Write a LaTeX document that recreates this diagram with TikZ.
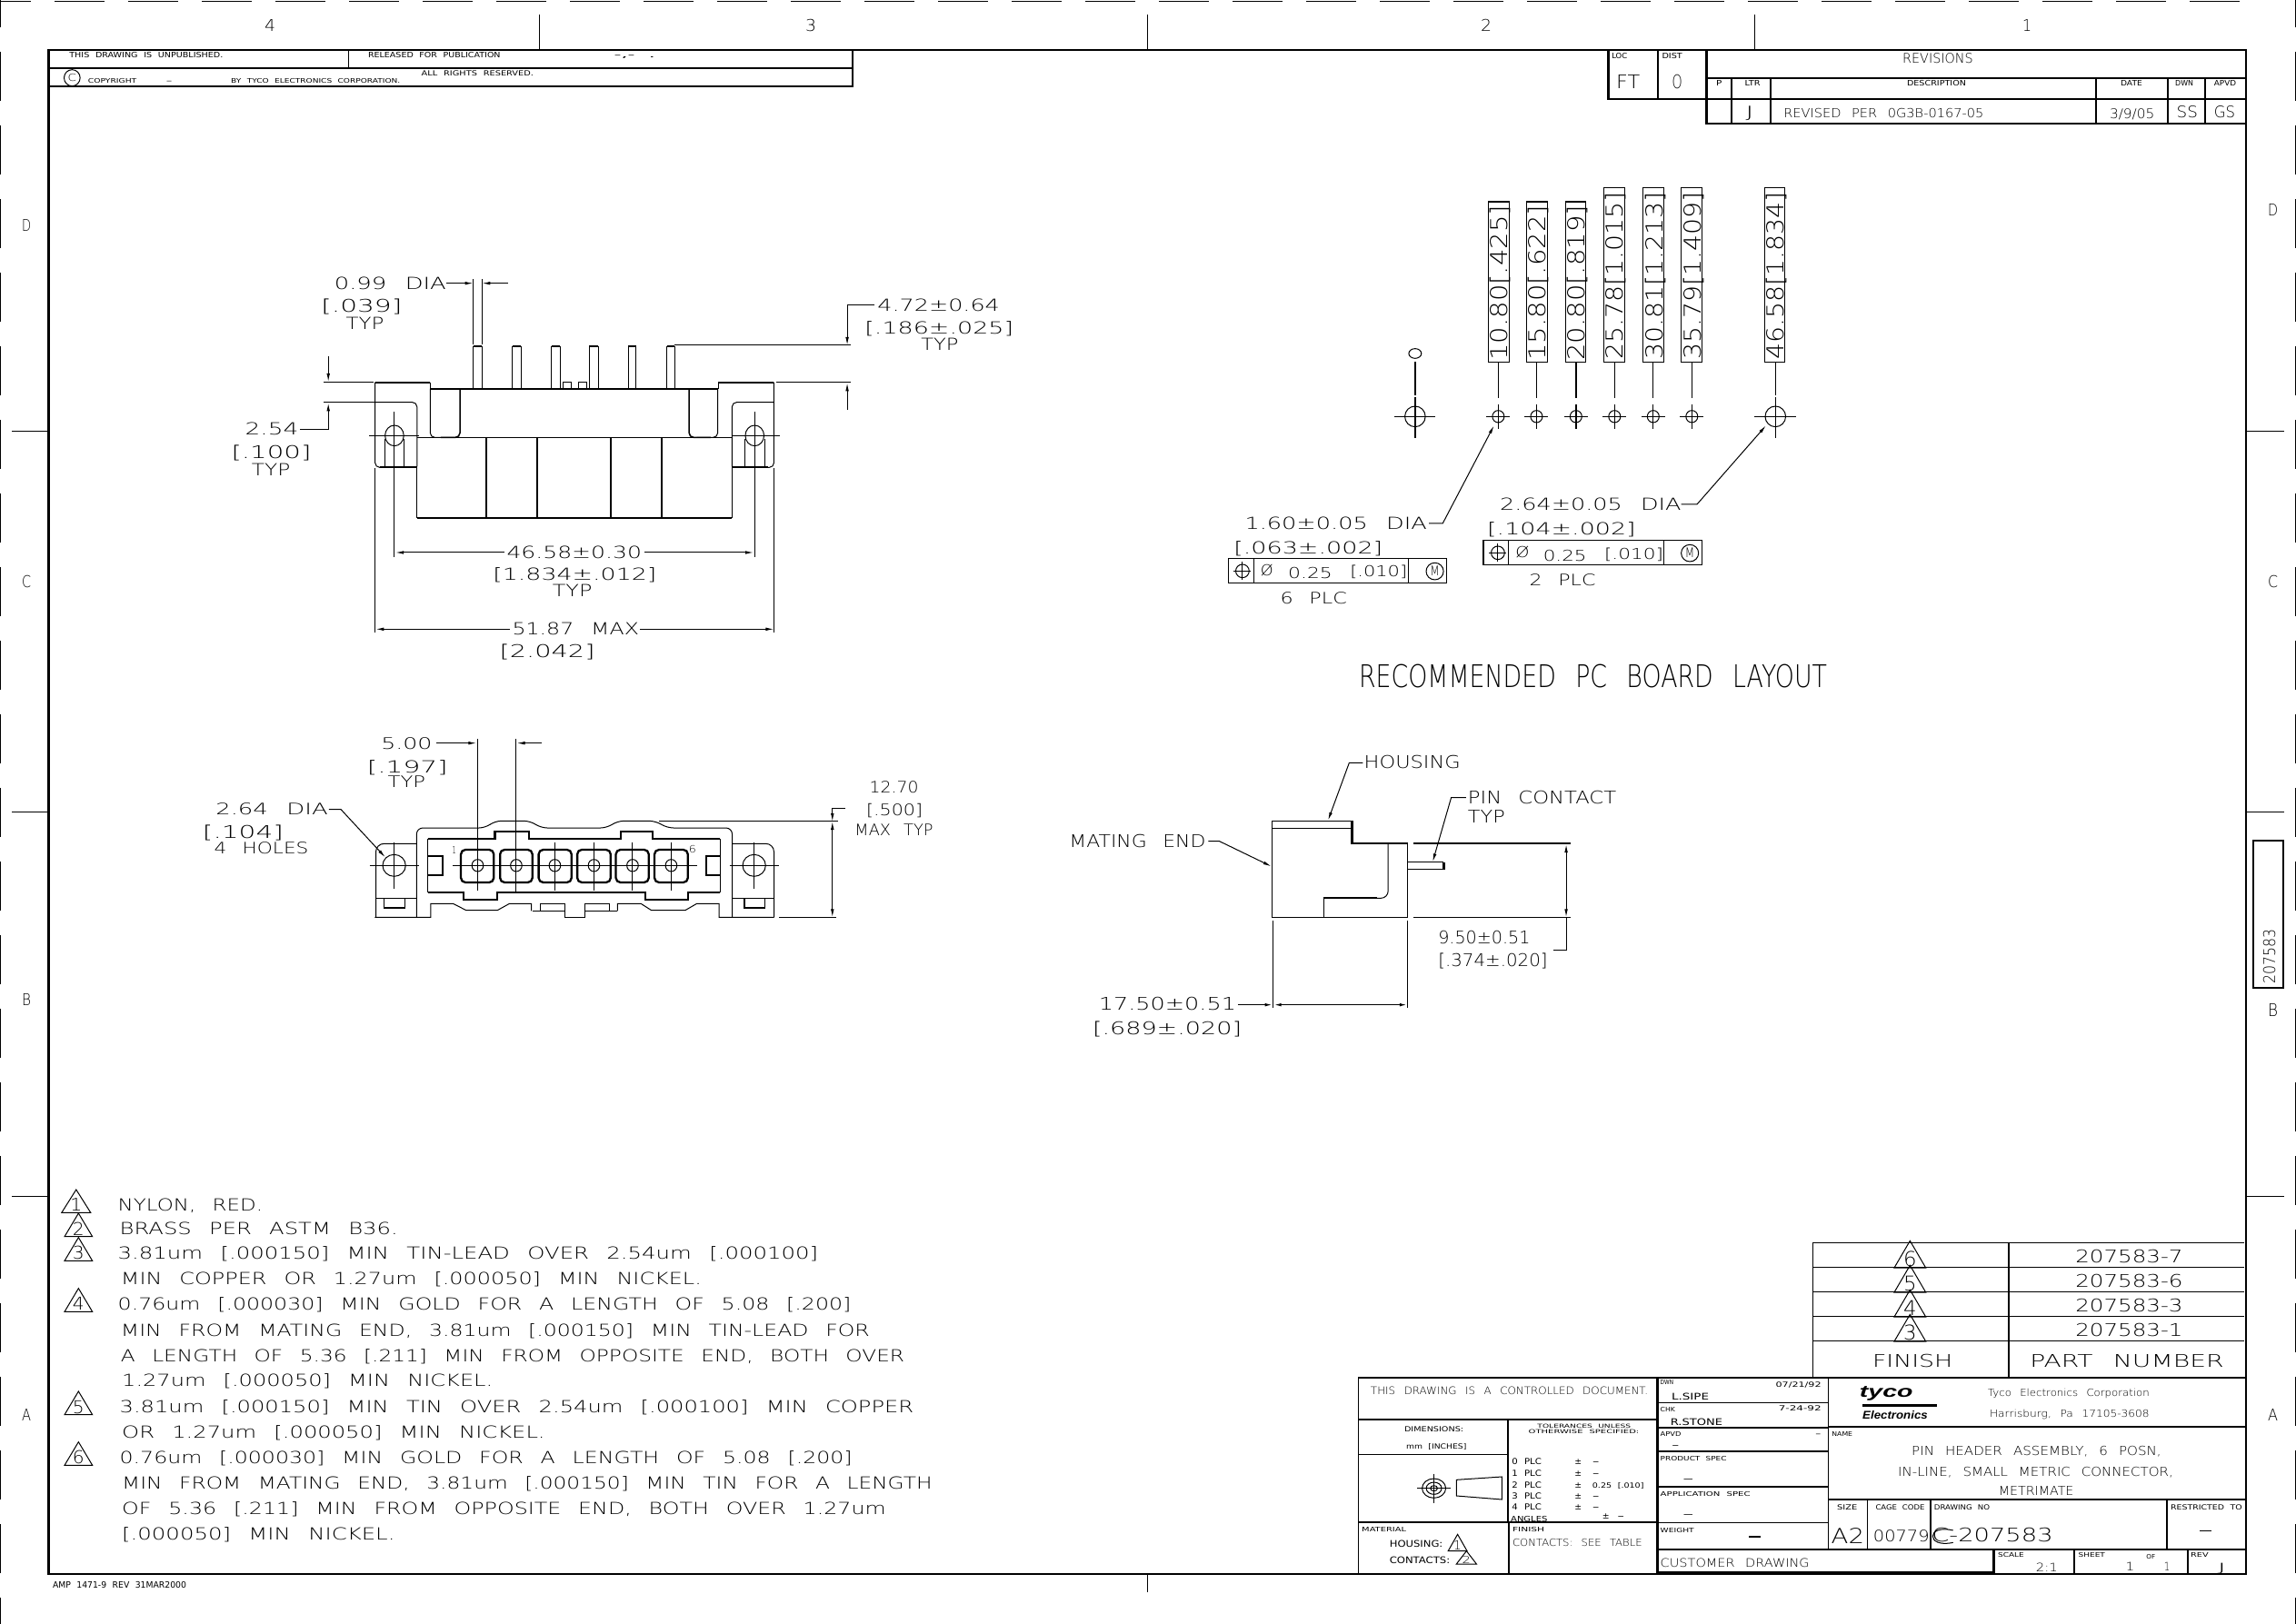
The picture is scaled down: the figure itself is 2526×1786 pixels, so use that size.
\documentclass[tikz,border=0pt]{standalone}
\usepackage{fontspec}
\usepackage{graphicx}
\usetikzlibrary{arrows.meta}
\setmainfont[WordSpace=2.5]{DejaVu Sans ExtraLight}
\newfontfamily\smallf[WordSpace=2.2]{DejaVu Sans}
\newfontfamily\logof{Liberation Sans}
\newsavebox{\mybox}
\newcounter{tn}
\def\zx{1}\def\zy{1}
\newcommand{\fitbox}[3]{\sbox{\mybox}{\fontsize{10}{12}\selectfont\ifdim #2pt<7.5pt \smallf\fi #3}%
 \edef\bw{\the\wd\mybox}%
 \pgfmathsetmacro\sclx{#1/\bw}%
 \pgfmathsetmacro\scly{#2/7.29}%
 \scalebox{\sclx}[\scly]{\usebox{\mybox}}}
% left x, baseline y, right x, cap height, text (all in the coordinates of the scope)
\newcommand{\Tx}[5]{\stepcounter{tn}%
 \pgfmathsetmacro\tww{(#3-(#1))/\zx}\pgfmathsetmacro\tcc{(#4)/\zy}%
 \node[txt] (t\thetn) at (#1,#2) {\fitbox{\tww}{\tcc}{#5}};}
% baseline x, bottom y, top y, cap height, text: reads upwards
\newcommand{\Tv}[5]{\stepcounter{tn}%
 \pgfmathsetmacro\tww{(#2-(#3))/\zy}\pgfmathsetmacro\tcc{(#4)/\zx}%
 \node[txt,rotate=90] (t\thetn) at (#1,#2) {\fitbox{\tww}{\tcc}{#5}};}
% apex x, apex y, half width, base y, digit
\newcommand{\Tri}[5]{\draw (#1,#2)--(#1-#3,#4)--(#1+#3,#4)--cycle;
 \pgfmathsetmacro\lfx{#1-0.42*#3}\pgfmathsetmacro\rgx{#1+0.42*#3}%
 \pgfmathsetmacro\bsy{#4-0.06*(#4-#2)}\pgfmathsetmacro\cpp{0.55*(#4-#2)}%
 \Tx{\lfx}{\bsy}{\rgx}{\cpp}{#5}}
\tikzset{txt/.style={inner sep=0pt,outer sep=0pt,anchor=base west},
 hv/.style={line width=2.3pt},
 mid/.style={line width=1.5pt},
 >={Latex[length=9pt,width=3.6pt]}}
\begin{document}
\begin{tikzpicture}[x=1pt,y=-1pt,line width=1pt]
\useasboundingbox (0,0) rectangle (2526,1786);
\fill[white] (0,0) rectangle (2526,1786);
% outer dashes
\foreach \i in {0,...,30} {\draw ({-21+81*\i},1) -- ({34+81*\i},1);}
\foreach \i in {0,...,22} {\draw (0.8,{-24+81*\i}) -- (0.8,{30+81*\i});
 \draw (2525.2,{-24+81*\i}) -- (2525.2,{30+81*\i});}
% frame
\draw[hv] (53.5,55) rectangle (2471,1732);
\foreach \u in {593,1262,1930} {\draw (\u,16) -- (\u,55);}
\draw (1262,1732) -- (1262,1752);
\foreach \v in {474,893,1316} {\draw (13,\v) -- (53.5,\v); \draw (2471,\v) -- (2513,\v);}
% zone letters
\Tx{291}{34}{303}{13}{4}\Tx{886}{34}{898}{13}{3}\Tx{1629}{34}{1641}{13}{2}\Tx{2225}{34}{2235}{13}{1}
\Tx{24}{254}{34}{13}{D}\Tx{24}{646}{34}{13}{C}\Tx{24}{1106}{34}{13}{B}\Tx{24}{1563}{34}{13}{A}
\Tx{2495}{237}{2506}{13}{D}\Tx{2495}{646}{2506}{13}{C}\Tx{2495}{1118}{2506}{14}{B}\Tx{2495}{1563}{2506}{13}{A}
\draw[mid] (2479,925) rectangle (2512,1087);
\Tv{2503}{1082}{1022}{13}{207583}
\Tx{58}{1747}{205}{7}{AMP 1471-9 REV 31MAR2000}
\Tx{1495}{756}{2010}{25}{RECOMMENDED PC BOARD LAYOUT}

% ---------- top-left table
\def\zx{1.704}\def\zy{3}
\begin{scope}[shift={(40,40)},x=0.5869pt,y=-0.3333pt]
\draw[hv] (1530,44)--(1530,165)--(22,165);
\draw[mid] (22,105)--(1530,105);
\draw (585,44)--(585,105);
\Tx{62}{70}{350}{18}{THIS DRAWING IS UNPUBLISHED.}
\Tx{622}{70}{870}{18}{RELEASED FOR PUBLICATION}
\Tx{1083}{70}{1160}{18}{-,-  .}
\draw (67,137) ellipse [x radius=15,y radius=27];
\Tx{59}{150}{75}{24}{C}
\Tx{97}{155}{188}{15}{COPYRIGHT}
\Tx{243}{155}{255}{15}{-}
\Tx{365}{155}{682}{15}{BY TYCO ELECTRONICS CORPORATION.}
\Tx{722}{130}{932}{17}{ALL RIGHTS RESERVED.}
\end{scope}

% ---------- revisions
\def\zx{2.063}\def\zy{3}
\begin{scope}[shift={(1750,40)},x=0.4847pt,y=-0.3333pt]
\draw[hv] (40,44)--(40,207)--(1485,207);
\draw[hv] (153,44)--(153,207);
\draw[hv] (263,44)--(263,290);
\draw[hv] (263,138)--(1485,138);
\draw[mid] (263,288)--(1485,288);
\draw[hv] (320,138)--(320,290);
\foreach \u in {408,1147,1310,1395} {\draw[mid] (\u,138)--(\u,288);}
\Tx{48}{75}{83}{18}{LOC}\Tx{162}{75}{208}{18}{DIST}
\Tx{58}{172}{112}{45}{FT}\Tx{185}{172}{208}{45}{O}
\Tx{708}{88}{868}{32}{REVISIONS}
\Tx{285}{165}{298}{18}{P}\Tx{350}{165}{385}{18}{LTR}
\Tx{718}{165}{852}{18}{DESCRIPTION}
\Tx{1203}{165}{1252}{18}{DATE}\Tx{1327}{165}{1368}{18}{DWN}\Tx{1415}{165}{1465}{18}{APVD}
\Tx{352}{268}{370}{38}{J}
\Tx{438}{268}{892}{30}{REVISED PER 0G3B-0167-05}
\Tx{1178}{272}{1280}{32}{3/9/05}
\Tx{1330}{268}{1378}{38}{SS}\Tx{1415}{268}{1463}{38}{GS}
\end{scope}

% ---------- front view
\def\zx{1.65}\def\zy{3}
\begin{scope}[shift={(200,280)},x=0.606pt,y=-0.3333pt]
\foreach \a/\b in {529/545,600/616,671/687,740/756,811/825,881/895} {
 \draw (\a,443)--(\a,304)--(\b,304)--(\b,443);
 \draw[hv] (\a,302)--(\b,302);}
\draw (693,443)--(693,421)--(707,421)--(707,443);
\draw (720,443)--(720,421)--(735,421)--(735,443);
\draw[hv] (451,443)--(973,443);
\draw[hv] (351,422)--(451,422);
\draw[hv] (974,422)--(1075,422);
\draw (451,422)--(451,443); \draw (974,422)--(974,443);
\draw[rounded corners=5pt] (351,422)--(351,703)--(365,703);
\draw[rounded corners=5pt] (1075,422)--(1075,703)--(1060,703);
\draw[hv] (360,702)--(427,702);
\draw[hv] (999,702)--(1065,702);
\draw[rounded corners=5pt] (351,488)--(427,488)--(427,700);
\draw[rounded corners=5pt] (1075,488)--(999,488)--(999,700);
\draw (427,700)--(427,870);\draw (999,700)--(999,870);
\draw[hv] (427,870)--(999,870);
\draw (427,604)--(999,604);
\foreach \u in {553,645,779,871} {\draw[mid] (\u,604)--(\u,870);}
\draw[rounded corners=5pt] (451,443)--(451,604)--(505,604);
\draw[mid,rounded corners=5pt] (505,443)--(505,604)--(470,604);
\draw[mid,rounded corners=5pt] (921,443)--(921,604)--(960,604);
\draw[rounded corners=5pt] (973,443)--(973,604)--(935,604);
\foreach \u in {386,1040} {
 \draw (\u,598) ellipse [x radius=17,y radius=34];
 \draw (\u,520)--(\u,1000);}
\draw (369,610)--(369,702);\draw (404,610)--(404,702);
\draw (1022,610)--(1022,702);\draw (1058,610)--(1058,702);
\draw (340,598)--(430,598);\draw (998,598)--(1085,598);
\draw (351,705)--(351,1247);\draw (1075,705)--(1075,1247);
\draw[->] (585,984)--(388,984);\draw[->] (840,984)--(1038,984);
\draw[->] (595,1237)--(352,1237);\draw[->] (832,1237)--(1075,1237);
\Tx{590}{1003}{835}{40}{46.58±0.30}
\Tx{565}{1076}{862}{40}{[1.834±.012]}
\Tx{673}{1130}{745}{40}{TYP}
\Tx{600}{1256}{830}{40}{51.87 MAX}
\Tx{577}{1330}{750}{42}{[2.042]}
\draw (529,82)--(529,298);\draw (545,82)--(545,298);
\draw[->] (480,95)--(529,95);\draw[->] (592,95)--(545,95);
\Tx{277}{116}{480}{40}{0.99 DIA}
\Tx{253}{190}{400}{42}{[.039]}
\Tx{298}{248}{367}{40}{TYP}
\draw[->] (1258,167)--(1208,167)--(1208,300);
\draw (895,300)--(1215,300);
\Tx{1263}{188}{1485}{40}{4.72±0.64}
\Tx{1240}{262}{1510}{40}{[.186±.025]}
\Tx{1342}{317}{1410}{40}{TYP}
\draw (1080,422)--(1215,422);
\draw[->] (1208,512)--(1208,424);
\draw[->] (266,335)--(266,420);
\draw (258,422)--(348,422);
\draw (258,488)--(351,488);
\draw[->] (215,577)--(266,577)--(266,490);
\Tx{115}{597}{212}{40}{2.54}
\Tx{90}{675}{235}{42}{[.100]}
\Tx{127}{730}{197}{40}{TYP}
\end{scope}

% ---------- end view
\def\zx{1.742}\def\zy{3}
\begin{scope}[shift={(200,780)},x=0.574pt,y=-0.3333pt]
\draw[rounded corners=7pt] (450,688)--(450,393)--(582,393)--(600,370)--(668,370)--(688,393)--(815,393)--(835,370)--(908,370)--(930,393)--(1055,393)--(1055,688);
\draw (370,688)--(477,688)--(477,643)--(520,643)--(545,665)--(605,665)--(628,643)--(670,643)--(670,667);
\draw (687,667)--(687,643)--(735,643)--(735,688)--(772,688)--(772,643)--(820,643)--(820,667);
\draw (835,667)--(835,643)--(880,643)--(900,665)--(965,665)--(987,643)--(1030,643)--(1030,688)--(1135,688);
\draw (672,667)--(735,667);\draw (772,667)--(835,667);
\draw[rounded corners=9pt] (372,688)--(372,445)--(450,445);
\draw[mid] (415,445)--(450,445);
\draw[rounded corners=9pt] (1135,688)--(1135,445)--(1055,445);
\draw[mid] (1055,445)--(1090,445);
\draw (372,625)--(450,625);\draw (1055,625)--(1135,625);
\draw[mid] (388,625)--(388,657)--(428,657)--(428,625);
\draw[mid] (1078,625)--(1078,657)--(1118,657)--(1118,625);
\foreach \u in {407,1097} {
 \draw (\u,517) ellipse [x radius=22,y radius=36];
 \draw (\u,440)--(\u,595);}
\draw (360,517)--(455,517);\draw (1050,517)--(1145,517);
\draw[hv] (472,430)--(600,430)--(600,405)--(665,405)--(665,430)--(842,430)--(842,405)--(903,405)--(903,430)--(1032,430);
\draw[hv] (472,605)--(540,605)--(540,630)--(605,630)--(605,605)--(888,605)--(888,630)--(970,630)--(970,605)--(1032,605);
\draw (472,430)--(472,605);\draw (1032,430)--(1032,605);
\draw[hv] (472,485)--(500,485)--(500,550)--(472,550);
\draw[hv] (1032,485)--(1005,485)--(1005,550)--(1032,550);
\foreach \a/\b in {535/598,610/672,684/747,758/822,832/895,906/970} {
 \draw[hv,rounded corners=5pt] (\a,465) rectangle (\b,573);}
\foreach \u in {567,641,715,790,864,938} {
 \draw (\u,517) ellipse [x radius=11,y radius=20];
 \draw (\u,440)--(\u,600);}
\draw (567,100)--(567,440);\draw (641,100)--(641,440);\draw (641,600)--(641,610);
\draw (520,517)--(988,517);
\Tx{518}{478}{526}{24}{1}\Tx{972}{475}{986}{24}{6}
\draw[->] (488,113)--(565,113);\draw[->] (690,113)--(642,113);
\Tx{382}{132}{480}{38}{5.00}
\Tx{355}{212}{510}{40}{[.197]}
\Tx{395}{260}{467}{38}{TYP}
\Tx{65}{350}{280}{38}{2.64 DIA}
\draw[->] (282,332)--(305,332)--(390,490);
\Tx{40}{428}{195}{42}{[.104]}
\Tx{62}{480}{243}{38}{4 HOLES}
\Tx{1318}{277}{1412}{38}{12.70}
\Tx{1312}{352}{1420}{38}{[.500]}
\Tx{1290}{418}{1440}{38}{MAX TYP}
\draw (1272,327)--(1247,327);
\draw[->] (1247,327)--(1247,372);
\draw[->] (1247,420)--(1247,372);
\draw[->] (1247,420)--(1247,688);
\draw (915,370)--(1258,370);\draw (1145,688)--(1255,688);
\end{scope}

% ---------- PC board layout
\def\zx{2.306}\def\zy{3}
\begin{scope}[shift={(1340,190)},x=0.4337pt,y=-0.3333pt]
\foreach \a/\b/\t in {686/739/95,783/836/95,882/933/95,979/1032/48,1078/1131/48,1175/1228/48,1387/1438/48} {
 \draw (\a,\t) rectangle (\b,625);}
\draw[hv] (686,95)--(739,95);\draw[hv] (783,95)--(836,95);\draw[hv] (882,95)--(933,95);
\draw[mid] (783,95)--(783,625);\draw[mid] (1131,48)--(1131,625);\draw[mid] (1175,48)--(1175,625);
\Tv{735}{620}{108}{43}{10.80[.425]}
\Tv{832}{620}{108}{43}{15.80[.622]}
\Tv{930}{620}{108}{43}{20.80[.819]}
\Tv{1028}{618}{65}{43}{25.78[1.015]}
\Tv{1128}{618}{65}{43}{30.81[1.213]}
\Tv{1225}{618}{65}{43}{35.79[1.409]}
\Tv{1435}{618}{65}{43}{46.58[1.834]}
\foreach \u in {711,808,1006,1104,1202} {
 \draw (\u,625)--(\u,745);
 \draw (\u,805) ellipse [x radius=15,y radius=20];
 \draw (\u-30,805)--(\u+30,805);
 \draw (\u,765)--(\u,845);}
\draw[mid] (908,625)--(908,745);
\draw[mid] (908,765)--(908,845);
\draw (908,805) ellipse [x radius=15,y radius=20];
\draw (878,805)--(938,805);
\draw (1414,625)--(1414,735);
\draw (1414,805) ellipse [x radius=26,y radius=34];
\draw (1360,805)--(1467,805);
\draw (1414,740)--(1414,875);
\draw (500,597) ellipse [x radius=16,y radius=16];
\draw[mid] (500,625)--(500,735);
\draw[mid] (500,740)--(500,875);
\draw (500,805) ellipse [x radius=26,y radius=34];
\draw (447,805)--(552,805);
\draw[->] (535,1158)--(570,1158)--(700,835);
\Tx{68}{1177}{530}{40}{1.60±0.05 DIA}
\Tx{40}{1258}{418}{40}{[.063±.002]}
\draw[mid] (26,1274) rectangle (580,1354);
\draw[mid] (91,1274)--(91,1354);\draw (482,1274)--(482,1354);
\draw (62,1315) ellipse [x radius=17,y radius=22];
\draw (62,1285)--(62,1345);\draw (40,1315)--(84,1315);
\Tx{108}{1330}{140}{36}{Ø}
\Tx{178}{1340}{290}{36}{0.25}
\Tx{335}{1335}{480}{36}{[.010]}
\draw (550,1316) ellipse [x radius=22,y radius=28];
\Tx{538}{1332}{562}{32}{M}
\Tx{158}{1425}{327}{38}{6 PLC}
\draw[->] (1175,1095)--(1215,1095)--(1390,835);
\Tx{715}{1115}{1175}{40}{2.64±0.05 DIA}
\Tx{683}{1195}{1060}{40}{[.104±.002]}
\draw[mid] (673,1213) rectangle (1228,1294);
\draw[hv] (673,1213)--(673,1294);
\draw (737,1213)--(737,1294);\draw (1130,1213)--(1130,1294);
\draw (710,1255) ellipse [x radius=17,y radius=22];
\draw (710,1225)--(710,1285);\draw (688,1255)--(732,1255);
\Tx{755}{1272}{790}{36}{Ø}
\Tx{825}{1283}{935}{36}{0.25}
\Tx{980}{1278}{1130}{36}{[.010]}
\draw (1197,1256) ellipse [x radius=22,y radius=28];
\Tx{1185}{1272}{1209}{32}{M}
\Tx{790}{1365}{958}{38}{2 PLC}
\end{scope}

% ---------- side view
\def\zx{2.45}\def\zy{3}
\begin{scope}[shift={(1160,810)},x=0.408pt,y=-0.3333pt]
\draw (803,280)--(588,280)--(588,598)--(953,598)--(953,355);
\draw[hv] (803,280)--(803,355)--(953,355);
\draw (588,305)--(803,305);
\draw[rounded corners=8pt] (900,355)--(900,535)--(840,535);
\draw[hv] (870,535)--(726,535);
\draw (726,535)--(726,598);
\draw[mid] (953,416)--(1050,416);
\draw (953,441)--(1050,441);
\draw[hv] (1050,416)--(1050,441);
\draw[hv] (968,355)--(1393,355);
\draw (968,598)--(1393,598);
\draw[->] (1380,480)--(1380,357);
\draw[->] (1380,480)--(1380,598);
\draw (1380,598)--(1380,708)--(1345,708);
\draw (590,610)--(590,898);\draw (953,610)--(953,898);
\draw[mid,->] (495,887)--(590,887);
\draw[mid,->] (770,887)--(590,887);
\draw[mid,->] (770,887)--(953,887);
\Tx{1035}{685}{1283}{42}{9.50±0.51}
\Tx{1035}{762}{1330}{42}{[.374±.020]}
\Tx{120}{905}{490}{42}{17.50±0.51}
\Tx{103}{985}{505}{42}{[.689±.020]}
\Tx{835}{105}{1095}{42}{HOUSING}
\draw[->] (832,88)--(795,88)--(738,278);
\Tx{1115}{222}{1515}{42}{PIN CONTACT}
\Tx{1115}{285}{1215}{42}{TYP}
\draw[->] (1110,203)--(1070,203)--(1020,415);
\Tx{40}{367}{408}{42}{MATING END}
\draw[->] (415,347)--(445,347)--(585,430);
\end{scope}

% ---------- notes
\def\zx{1.568}\def\zy{3}
\begin{scope}[shift={(50,1290)},x=0.6378pt,y=-0.3333pt]
\Tri{53}{57}{25}{133}{1}
\Tri{57}{135}{24}{212}{2}
\Tri{57}{215}{24}{292}{3}
\Tri{57}{383}{24}{460}{4}
\Tri{57}{723}{24}{800}{5}
\Tri{57}{890}{24}{967}{6}
\Tx{125}{127}{375}{40}{NYLON, RED.}
\Tx{128}{205}{608}{40}{BRASS PER ASTM B36.}
\Tx{125}{287}{1333}{40}{3.81um [.000150] MIN TIN-LEAD OVER 2.54um [.000100]}
\Tx{130}{370}{1132}{40}{MIN COPPER OR 1.27um [.000050] MIN NICKEL.}
\Tx{125}{455}{1390}{40}{0.76um [.000030] MIN GOLD FOR A LENGTH OF 5.08 [.200]}
\Tx{130}{540}{1422}{40}{MIN FROM MATING END, 3.81um [.000150] MIN TIN-LEAD FOR}
\Tx{130}{625}{1482}{40}{A LENGTH OF 5.36 [.211] MIN FROM OPPOSITE END, BOTH OVER}
\Tx{132}{708}{772}{40}{1.27um [.000050] MIN NICKEL.}
\Tx{128}{793}{1498}{40}{3.81um [.000150] MIN TIN OVER 2.54um [.000100] MIN COPPER}
\Tx{132}{877}{862}{40}{OR 1.27um [.000050] MIN NICKEL.}
\Tx{128}{962}{1392}{40}{0.76um [.000030] MIN GOLD FOR A LENGTH OF 5.08 [.200]}
\Tx{132}{1047}{1530}{40}{MIN FROM MATING END, 3.81um [.000150] MIN TIN FOR A LENGTH}
\Tx{132}{1130}{1450}{40}{OF 5.36 [.211] MIN FROM OPPOSITE END, BOTH OVER 1.27um}
\Tx{132}{1215}{603}{40}{[.000050] MIN NICKEL.}
\end{scope}

% ---------- finish table
\def\zx{3}\def\zy{3}
\begin{scope}[shift={(1980,1360)},x=0.3333pt,y=-0.3333pt]
\draw (43,22)--(43,465);
\foreach \v in {22,103,184,265,346} {\draw[mid] (43,\v)--(1468,\v);}
\draw[hv] (690,22)--(690,465);
\Tri{364}{16}{52}{105}{6}
\Tri{364}{97}{52}{186}{5}
\Tri{364}{178}{52}{267}{4}
\Tri{364}{259}{52}{348}{3}
\Tx{910}{87}{1265}{42}{207583-7}
\Tx{910}{168}{1265}{42}{207583-6}
\Tx{910}{249}{1265}{42}{207583-3}
\Tx{910}{330}{1265}{42}{207583-1}
\Tx{240}{433}{505}{42}{FINISH}
\Tx{760}{433}{1400}{42}{PART NUMBER}
\end{scope}

% ---------- title block
\def\zx{1.537}\def\zy{3}
\begin{scope}[shift={(1480,1500)},x=0.6505pt,y=-0.3333pt]
\draw[hv] (22,47)--(1522,47);
\draw[mid] (22,47)--(22,695);
\draw[hv] (528,47)--(528,695);
\draw[hv] (22,185)--(528,185);
\draw[mid] (275,185)--(275,525);
\draw[mid] (277,525)--(277,695);
\draw[mid] (22,302)--(275,302);
\draw[hv] (22,525)--(528,525);
\draw[mid] (528,130)--(817,130);
\draw[hv] (528,212)--(817,212);
\draw[hv] (528,290)--(817,290);
\draw[hv] (528,407)--(817,407);
\draw[mid] (528,527)--(817,527);
\draw[hv] (528,615)--(1522,615);
\draw[mid] (817,47)--(817,615);
\draw[hv] (817,210)--(1522,210);
\draw[hv] (817,450)--(1522,450);
\foreach \u in {883,990,1390} {\draw[mid] (\u,450)--(\u,615);}
\draw[hv] (1097,615)--(1097,690)--(528,690);
\draw[mid] (1233,615)--(1233,695);\draw[mid] (1425,615)--(1425,695);
\Tx{43}{102}{512}{25}{THIS DRAWING IS A CONTROLLED DOCUMENT.}
\Tx{100}{225}{200}{17}{DIMENSIONS:}
\Tx{103}{283}{205}{17}{mm [INCHES]}
\Tx{325}{214}{483}{13}{TOLERANCES UNLESS}
\Tx{310}{232}{497}{13}{OTHERWISE SPECIFIED:}
\Tx{282}{335}{332}{20}{0 PLC}\Tx{282}{372}{332}{20}{1 PLC}\Tx{282}{412}{332}{20}{2 PLC}\Tx{282}{448}{332}{20}{3 PLC}\Tx{282}{485}{332}{20}{4 PLC}
\Tx{280}{522}{342}{18}{ANGLES}
\foreach \v in {335,372,412,448,485} {\Tx{388}{\v}{400}{20}{±}}
\Tx{418}{335}{430}{20}{-}\Tx{418}{372}{430}{20}{-}\Tx{418}{412}{505}{17}{0.25 [.010]}\Tx{418}{448}{430}{20}{-}\Tx{418}{485}{430}{20}{-}
\Tx{435}{515}{447}{20}{±}\Tx{460}{515}{472}{20}{-}
\draw (150,413) ellipse [x radius=20,y radius=32];
\draw (150,413) ellipse [x radius=13,y radius=20];
\draw (150,413) ellipse [x radius=6,y radius=9];
\draw (122,413)--(178,413);\draw (150,365)--(150,463);
\draw (188,385)--(265,375)--(265,450)--(188,438)--cycle;
\Tx{28}{555}{103}{15}{MATERIAL}
\Tx{75}{607}{165}{22}{HOUSING:}
\Tri{190}{565}{16}{620}{1}
\Tx{75}{660}{177}{22}{CONTACTS:}
\Tri{205}{620}{17}{663}{2}
\Tx{283}{555}{337}{15}{FINISH}
\Tx{283}{605}{502}{24}{CONTACTS: SEE TABLE}
\Tx{533}{70}{555}{15}{DWN}\Tx{728}{78}{805}{17}{07/21/92}
\Tx{552}{122}{615}{22}{L.SIPE}
\Tx{533}{160}{558}{15}{CHK}\Tx{733}{158}{805}{17}{7-24-92}
\Tx{550}{204}{638}{22}{R.STONE}
\Tx{533}{240}{568}{15}{APVD}\Tx{795}{240}{805}{17}{-}\Tx{552}{280}{565}{20}{-}
\Tx{533}{322}{645}{15}{PRODUCT SPEC}\Tx{570}{392}{590}{20}{-}
\Tx{533}{440}{685}{15}{APPLICATION SPEC}\Tx{570}{508}{590}{20}{-}
\Tx{533}{558}{590}{15}{WEIGHT}
\draw[hv] (683,573)--(703,573);
\Tx{533}{672}{785}{28}{CUSTOMER DRAWING}
\Tx{870}{112}{960}{40}{\logof\bfseries\itshape tyco}
\draw[line width=3pt] (875,140)--(1000,140);
\Tx{875}{185}{985}{27}{\logof\bfseries\itshape Electronics}
\Tx{1087}{110}{1360}{24}{Tyco Electronics Corporation}
\Tx{1090}{177}{1360}{24}{Harrisburg, Pa 17105-3608}
\Tx{823}{240}{858}{15}{NAME}
\Tx{958}{305}{1380}{30}{PIN HEADER ASSEMBLY, 6 POSN,}
\Tx{935}{372}{1400}{30}{IN-LINE, SMALL METRIC CONNECTOR,}
\Tx{1105}{435}{1232}{30}{METRIMATE}
\Tx{832}{485}{866}{17}{SIZE}\Tx{897}{485}{980}{17}{CAGE CODE}\Tx{996}{485}{1090}{17}{DRAWING NO}\Tx{1396}{485}{1517}{17}{RESTRICTED TO}
\Tx{822}{595}{878}{50}{A2}
\Tx{893}{590}{988}{38}{00779}
\Tx{992}{590}{1197}{45}{C-207583}
\draw (1028,552) .. controls (982,530) and (982,612) .. (1028,592);
\draw[mid] (1445,553)--(1465,553);
\Tx{1104}{640}{1148}{15}{SCALE}\Tx{1168}{687}{1205}{28}{2:1}
\Tx{1240}{640}{1285}{15}{SHEET}\Tx{1320}{685}{1335}{28}{1}\Tx{1355}{645}{1370}{15}{OF}\Tx{1385}{685}{1395}{28}{1}
\Tx{1430}{640}{1460}{15}{REV}\Tx{1475}{687}{1490}{28}{J}
\end{scope}
\end{tikzpicture}
\end{document}
